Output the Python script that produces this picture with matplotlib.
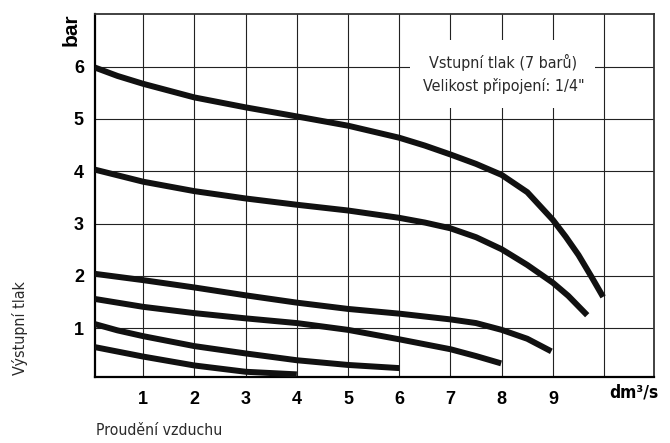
import matplotlib
matplotlib.use("Agg")
import matplotlib.pyplot as plt
from matplotlib.patches import Rectangle

plt.rcParams['font.family'] = ['Liberation Sans', 'DejaVu Sans']

# flow (dm3/s) and outlet pressure (bar), one list per curve
x1 = [0.06, 0.5, 1, 2, 3, 3.87, 5, 6, 6.5, 7, 7.5, 8, 8.5, 9, 9.25, 9.5, 9.75, 9.98]
y1 = [5.98, 5.82, 5.67, 5.41, 5.22, 5.07, 4.87, 4.64, 4.49, 4.32, 4.14, 3.93, 3.60, 3.07, 2.75, 2.40, 1.99, 1.60]

x2 = [0.06, 1, 2, 3, 4, 5, 6, 6.5, 7, 7.5, 8, 8.5, 9, 9.3, 9.67]
y2 = [4.03, 3.80, 3.62, 3.48, 3.36, 3.25, 3.11, 3.02, 2.91, 2.74, 2.51, 2.21, 1.87, 1.62, 1.25]

x3 = [0.06, 1, 2, 3, 4, 5, 6, 7, 7.5, 8, 8.5, 8.97]
y3 = [2.04, 1.92, 1.78, 1.63, 1.49, 1.37, 1.28, 1.17, 1.10, 0.97, 0.80, 0.56]

x4 = [0.06, 1, 2, 3, 4, 5, 6, 7, 7.5, 7.99]
y4 = [1.56, 1.41, 1.29, 1.19, 1.10, 0.97, 0.79, 0.60, 0.47, 0.33]

x5 = [0.06, 0.5, 1, 2, 3, 4, 5, 6.0]
y5 = [1.08, 0.96, 0.85, 0.66, 0.52, 0.39, 0.30, 0.24]

x6 = [0.06, 1, 2, 3, 4.0]
y6 = [0.64, 0.46, 0.29, 0.17, 0.12]

xticks = [1, 2, 3, 4, 5, 6, 7, 8, 9]
yticks = [1, 2, 3, 4, 5, 6]

fig = plt.figure(figsize=(6.7, 4.43), dpi=100)
ax = fig.add_axes([0.1418, 0.149, 0.834, 0.819])

for xs, ys in [(x1, y1), (x2, y2), (x3, y3), (x4, y4), (x5, y5), (x6, y6)]:
    ax.plot(xs, ys, color='#111111', linewidth=4.3, solid_capstyle='butt',
            solid_joinstyle='round', zorder=3)

ax.set_xlim(0.06, 10.97)
ax.set_ylim(0.07, 7.0)
ax.set_xticks(xticks)
ax.set_xticklabels([str(t) for t in xticks], fontsize=13, fontweight='bold')
ax.set_yticks(yticks)
ax.set_yticklabels([str(t) for t in yticks], fontsize=13, fontweight='bold')
ax.set_xticks([10], minor=True)
ax.grid(True, which='both', color='#222222', linewidth=0.8)
ax.tick_params(which='both', length=0)
ax.tick_params(axis='x', pad=10)
ax.tick_params(axis='y', pad=8)

for side in ['left', 'bottom']:
    ax.spines[side].set_linewidth(1.6)
for side in ['top', 'right']:
    ax.spines[side].set_linewidth(1.3)
    ax.spines[side].set_color('#333333')

# white panel behind the note, cutting the grid
ax.add_patch(Rectangle((0.5635, 0.741), 0.331, 0.187, transform=ax.transAxes,
                       facecolor='white', edgecolor='none', zorder=2.5))
ax.text(0.731, 0.835, 'Vstupní tlak (7 barů)\nVelikost připojení: 1/4"',
        transform=ax.transAxes, ha='center', va='center', fontsize=11.5,
        family='DejaVu Sans', fontstretch='condensed', color='#2a2a2a',
        linespacing=1.6, zorder=4)

ax.text(-0.043, 0.957, 'bar', transform=ax.transAxes, rotation=90,
        ha='center', va='center', fontsize=15, fontweight='bold')
ax.text(0.964, -0.044, 'dm³/s', transform=ax.transAxes, ha='center', va='center',
        fontsize=12.5, fontweight='bold', family='DejaVu Sans', fontstretch='condensed')

fig.text(0.03, 0.26, 'Výstupní tlak', rotation=90, ha='center', va='center',
         fontsize=11.5, family='DejaVu Sans', fontstretch='condensed', color='#2a2a2a')
fig.text(0.143, 0.029, 'Proudění vzduchu', ha='left', va='center',
         fontsize=11.3, family='DejaVu Sans', fontstretch='condensed', color='#2a2a2a')

fig.savefig('out.png', dpi=100)
